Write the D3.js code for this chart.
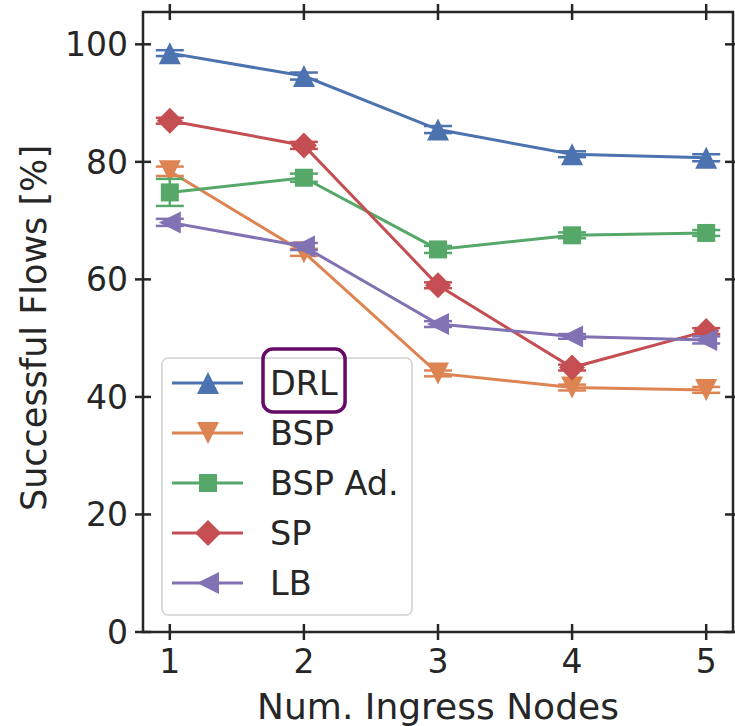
<!DOCTYPE html>
<html>
<head>
<meta charset="utf-8">
<script src="https://cdn.jsdelivr.net/npm/d3@7"></script>
<style>
  body { margin: 0; background: #fff; }
  svg text { font-family: "DejaVu Sans", sans-serif; fill: #262626; }
</style>
</head>
<body>
<div id="chart"></div>
<script>
// DATA
const nodes = [1, 2, 3, 4, 5];
const seriesNames = ["DRL", "BSP", "BSP Ad.", "SP", "LB"];
const drl     = [98.5, 94.6, 85.5, 81.3, 80.7];
const drlErr  = [0.5, 0.6, 0.6, 0.5, 0.6];
const bsp     = [78.4, 64.6, 44.0, 41.6, 41.2];
const bspErr  = [0.8, 0.6, 0.5, 0.5, 0.5];
const bspAd   = [74.8, 77.3, 65.1, 67.5, 67.9];
const bspAdErr = [2.3, 0.7, 0.6, 0.5, 0.5];
const sp      = [87.0, 82.8, 59.0, 45.0, 51.2];
const spErr   = [0.5, 0.6, 0.5, 0.5, 0.5];
const lb      = [69.7, 65.6, 52.4, 50.3, 49.7];
const lbErr   = [0.6, 0.6, 0.5, 0.4, 0.6];
const yTicks = [0, 20, 40, 60, 80, 100];
const xLabel = "Num. Ingress Nodes";
const yLabel = "Successful Flows [%]";

const values = [drl, bsp, bspAd, sp, lb];
const errors = [drlErr, bspErr, bspAdErr, spErr, lbErr];

// styles
const colors = ["#4c72b0", "#dd8452", "#55a868", "#c44e52", "#8172b3"];
const markers = ["up", "down", "square", "diamond", "left"];

const series = seriesNames.map((name, i) => ({
  name,
  color: colors[i],
  marker: markers[i],
  points: nodes.map((n, j) => ({ x: n, y: values[i][j], e: errors[i][j] }))
}));

// custom marker shapes (size = full width squared)
function shape(kind) {
  return {
    draw(ctx, size) {
      const r = Math.sqrt(size) / 2;
      let pts;
      if (kind === "up") pts = [[0, -r], [-r, r], [r, r]];
      else if (kind === "down") pts = [[0, r], [-r, -r], [r, -r]];
      else if (kind === "left") pts = [[-r, 0], [r, -r], [r, r]];
      else if (kind === "diamond") pts = [[0, -r], [r, 0], [0, r], [-r, 0]];
      else pts = [[-r, -r], [r, -r], [r, r], [-r, r]];
      ctx.moveTo(pts[0][0], pts[0][1]);
      pts.slice(1).forEach(p => ctx.lineTo(p[0], p[1]));
      ctx.closePath();
    }
  };
}
const markerSize = { up: 22 * 22, down: 22 * 22, left: 22 * 22, square: 18 * 18, diamond: 26 * 26 };

// SVG
const W = 735, H = 726;
const margin = { top: 12, right: 2, bottom: 94, left: 143 };
const width = W - margin.left - margin.right;
const height = H - margin.top - margin.bottom;

const svgRoot = d3.select("#chart").append("svg")
  .attr("width", W)
  .attr("height", H);
const svg = svgRoot.append("g")
  .attr("transform", `translate(${margin.left},${margin.top})`);

// SCALES
const xs = d3.scaleLinear().domain([0.8, 5.2]).range([0, width]);
const ys = d3.scaleLinear().domain([0, 105.5]).range([height, 0]);

// LINES + ERROR BARS + MARKERS
const line = d3.line().x(d => xs(d.x)).y(d => ys(d.y));
const cap = 14;

series.forEach(s => {
  const g = svg.append("g");
  g.append("path")
    .attr("d", line(s.points))
    .attr("fill", "none")
    .attr("stroke", s.color)
    .attr("stroke-width", 3);

  const eb = g.selectAll(".eb").data(s.points).enter().append("g");
  eb.append("line")
    .attr("x1", d => xs(d.x)).attr("x2", d => xs(d.x))
    .attr("y1", d => ys(d.y - d.e)).attr("y2", d => ys(d.y + d.e))
    .attr("stroke", s.color).attr("stroke-width", 2.5);
  [-1, 1].forEach(sign => {
    eb.append("line")
      .attr("x1", d => xs(d.x) - cap).attr("x2", d => xs(d.x) + cap)
      .attr("y1", d => ys(d.y + sign * d.e)).attr("y2", d => ys(d.y + sign * d.e))
      .attr("stroke", s.color).attr("stroke-width", 2.5);
  });

  g.selectAll(".m").data(s.points).enter().append("path")
    .attr("transform", d => `translate(${xs(d.x)},${ys(d.y)})`)
    .attr("d", d3.symbol().type(shape(s.marker)).size(markerSize[s.marker]))
    .attr("fill", s.color);
});

// AXES (ticks cross the spines)
const axisColor = "#262626";
const tin = 8, tout = 8;

svg.append("rect")
  .attr("x", 0).attr("y", 0)
  .attr("width", width).attr("height", height)
  .attr("fill", "none")
  .attr("stroke", axisColor)
  .attr("stroke-width", 2.5);

const tickG = svg.append("g").attr("stroke", axisColor).attr("stroke-width", 2.5);
nodes.forEach(n => {
  tickG.append("line").attr("x1", xs(n)).attr("x2", xs(n)).attr("y1", height - tin).attr("y2", height + tout);
  tickG.append("line").attr("x1", xs(n)).attr("x2", xs(n)).attr("y1", -tout).attr("y2", tin);
});
yTicks.forEach(t => {
  tickG.append("line").attr("x1", -tout).attr("x2", tin).attr("y1", ys(t)).attr("y2", ys(t));
  tickG.append("line").attr("x1", width - tin).attr("x2", width + tout).attr("y1", ys(t)).attr("y2", ys(t));
});

svg.selectAll(".xt").data(nodes).enter().append("text")
  .attr("x", d => xs(d))
  .attr("y", height + 41)
  .attr("text-anchor", "middle")
  .style("font-size", "33px")
  .text(d => d);

svg.selectAll(".yt").data(yTicks).enter().append("text")
  .attr("x", -15)
  .attr("y", d => ys(d) + 12)
  .attr("text-anchor", "end")
  .style("font-size", "33px")
  .text(d => d);

svg.append("text")
  .attr("x", width / 2)
  .attr("y", height + 87)
  .attr("text-anchor", "middle")
  .style("font-size", "36px")
  .text(xLabel);

svg.append("text")
  .attr("transform", `translate(${46 - margin.left},${height / 2 + 6}) rotate(-90)`)
  .attr("text-anchor", "middle")
  .style("font-size", "35px")
  .text(yLabel);

// LEGEND
const lgX = 19, lgY = 346, lgW = 250, lgH = 257, rowH = 50;
const legend = svg.append("g").attr("transform", `translate(${lgX},${lgY})`);
legend.append("rect")
  .attr("width", lgW).attr("height", lgH)
  .attr("rx", 6)
  .attr("fill", "white").attr("fill-opacity", 0.8)
  .attr("stroke", "#d0d0d0").attr("stroke-width", 1.5);

const items = legend.selectAll(".li").data(series).enter().append("g")
  .attr("transform", (d, i) => `translate(0,${25 + i * rowH})`);
items.append("line")
  .attr("x1", 10).attr("x2", 81)
  .attr("stroke", d => d.color).attr("stroke-width", 3);
items.append("path")
  .attr("transform", "translate(46,0)")
  .attr("d", d => d3.symbol().type(shape(d.marker)).size(markerSize[d.marker])())
  .attr("fill", d => d.color);
const labels = items.append("text")
  .attr("x", 108)
  .attr("y", 12)
  .style("font-size", "33.5px")
  .text(d => d.name);

// highlight box round the first legend label
const bb = labels.nodes()[0].getBBox();
legend.append("rect")
  .attr("x", bb.x - 7)
  .attr("y", 25 + bb.y - 15)
  .attr("width", bb.width + 14)
  .attr("height", bb.height + 24)
  .attr("rx", 10)
  .attr("fill", "none")
  .attr("stroke", "#650a66")
  .attr("stroke-width", 3.5);
</script>
</body>
</html>
